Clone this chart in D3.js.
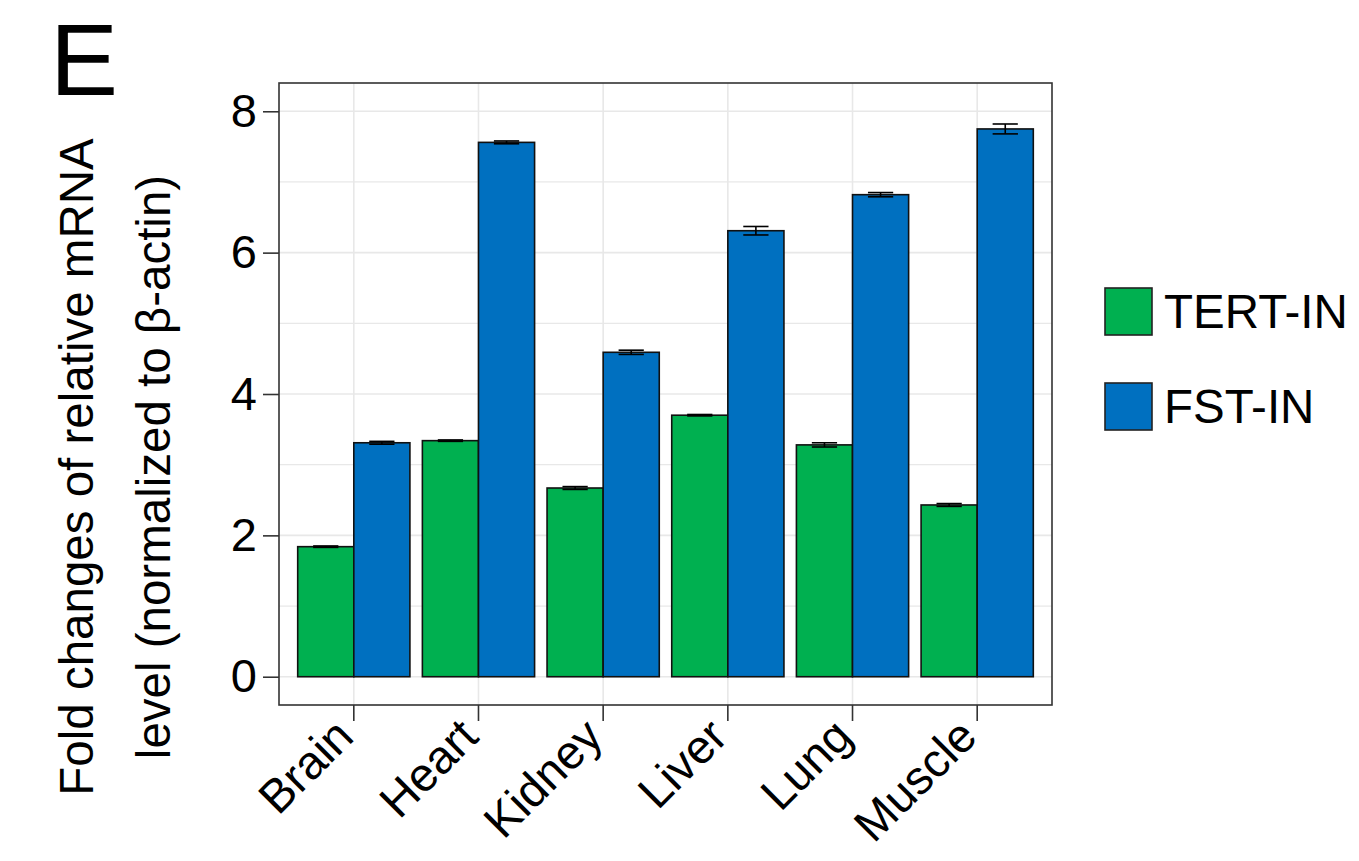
<!DOCTYPE html>
<html>
<head>
<meta charset="utf-8">
<script src="https://cdn.jsdelivr.net/npm/d3@7"></script>
<style>
  html, body { margin: 0; padding: 0; background: #fff; }
  svg { display: block; font-family: "Liberation Sans", Arial, sans-serif; }
</style>
</head>
<body>
<svg id="chart" width="1359" height="861"></svg>
<script>
// ---- data ----
const categories = ["Brain", "Heart", "Kidney", "Liver", "Lung", "Muscle"];
const seriesNames = ["TERT-IN", "FST-IN"];
const tertValues = [1.84, 3.34, 2.67, 3.70, 3.28, 2.43];
const tertErrors = [0.01, 0.01, 0.02, 0.01, 0.03, 0.02];
const fstValues  = [3.31, 7.56, 4.59, 6.31, 6.82, 7.75];
const fstErrors  = [0.02, 0.02, 0.03, 0.06, 0.03, 0.07];
const yTicks = [0, 2, 4, 6, 8];
const yGrid = [0, 1, 2, 3, 4, 5, 6, 7, 8];
const colors = ["#00B050", "#0070C0"];
const yTitleLines = ["Fold changes of relative mRNA", "level (normalized to \u03B2-actin)"];
const panelLabel = "E";

// ---- layout ----
const svg = d3.select("#chart");
const P = { left: 279, right: 1052, top: 83, bottom: 705 };

const x = d3.scaleBand().domain(categories).range([P.left, P.right])
  .paddingInner(0.1).paddingOuter(0.15);
const x1 = d3.scaleBand().domain(seriesNames).range([0, x.bandwidth()]).padding(0);
const y = d3.scaleLinear().domain([-0.4, 8.4]).range([P.bottom, P.top]);

const rows = [];
categories.forEach((c, i) => {
  rows.push({ cat: c, s: seriesNames[0], v: tertValues[i], e: tertErrors[i], col: colors[0] });
  rows.push({ cat: c, s: seriesNames[1], v: fstValues[i], e: fstErrors[i], col: colors[1] });
});

// panel background
svg.append("rect").attr("x", P.left).attr("y", P.top)
  .attr("width", P.right - P.left).attr("height", P.bottom - P.top)
  .attr("fill", "#fff");

// gridlines
const grid = svg.append("g");
grid.selectAll("line.h").data(yGrid).enter().append("line")
  .attr("x1", P.left).attr("x2", P.right)
  .attr("y1", d => y(d)).attr("y2", d => y(d))
  .attr("stroke", "#e8e8e8").attr("stroke-width", d => d % 2 === 0 ? 1.6 : 1.2);
grid.selectAll("line.v").data(categories).enter().append("line")
  .attr("x1", d => x(d) + x.bandwidth() / 2).attr("x2", d => x(d) + x.bandwidth() / 2)
  .attr("y1", P.top).attr("y2", P.bottom)
  .attr("stroke", "#e8e8e8").attr("stroke-width", 1.6);

// bars
svg.append("g").selectAll("rect").data(rows).enter().append("rect")
  .attr("x", d => x(d.cat) + x1(d.s))
  .attr("width", x1.bandwidth())
  .attr("y", d => y(d.v))
  .attr("height", d => y(0) - y(d.v))
  .attr("fill", d => d.col)
  .attr("stroke", "#111").attr("stroke-width", 1.6);

// error bars
const eb = svg.append("g").attr("stroke", "#000").attr("stroke-width", 1.6);
const ew = x1.bandwidth() * 0.45;
rows.forEach(d => {
  const cx = x(d.cat) + x1(d.s) + x1.bandwidth() / 2;
  eb.append("line").attr("x1", cx).attr("x2", cx).attr("y1", y(d.v + d.e)).attr("y2", y(d.v - d.e));
  eb.append("line").attr("x1", cx - ew / 2).attr("x2", cx + ew / 2).attr("y1", y(d.v + d.e)).attr("y2", y(d.v + d.e));
  eb.append("line").attr("x1", cx - ew / 2).attr("x2", cx + ew / 2).attr("y1", y(d.v - d.e)).attr("y2", y(d.v - d.e));
});

// panel border
svg.append("rect").attr("x", P.left).attr("y", P.top)
  .attr("width", P.right - P.left).attr("height", P.bottom - P.top)
  .attr("fill", "none").attr("stroke", "#333").attr("stroke-width", 1.6);

// y axis
const yAxis = d3.axisLeft(y).tickValues(yTicks).tickSize(16).tickPadding(6).tickFormat(d3.format("d"));
const gy = svg.append("g").attr("transform", `translate(${P.left},0)`).call(yAxis);
gy.select(".domain").remove();
gy.selectAll(".tick line").attr("stroke", "#333").attr("stroke-width", 1.6);
gy.selectAll(".tick text").attr("font-size", 47).attr("fill", "#000")
  .attr("font-family", "'Liberation Sans', Arial, sans-serif");

// x axis
const xAxis = d3.axisBottom(x).tickSize(16).tickPadding(0);
const gx = svg.append("g").attr("transform", `translate(0,${P.bottom})`).call(xAxis);
gx.select(".domain").remove();
gx.selectAll(".tick line").attr("stroke", "#333").attr("stroke-width", 1.6);
gx.selectAll(".tick text")
  .attr("font-size", 47).attr("fill", "#000")
  .attr("font-family", "'Liberation Sans', Arial, sans-serif")
  .attr("text-anchor", "end")
  .attr("y", 0).attr("dy", "0.72em")
  .attr("transform", "translate(-22,10) rotate(-45)");

// y title
svg.append("g").selectAll("text").data(yTitleLines).enter().append("text")
  .attr("transform", (d, i) => `translate(${i === 0 ? 93 : 170},467) rotate(-90)`)
  .attr("text-anchor", "middle")
  .attr("font-size", 47.5).attr("fill", "#000")
  .text(d => d);

// legend
const lg = svg.append("g");
seriesNames.forEach((s, i) => {
  const ky = 288 + i * 95;
  lg.append("rect").attr("x", 1105).attr("y", ky).attr("width", 47).attr("height", 47)
    .attr("fill", colors[i]).attr("stroke", "#222").attr("stroke-width", 1.6);
  lg.append("text").attr("x", 1164).attr("y", ky + 40)
    .attr("font-size", 47.5).attr("fill", "#000").text(s);
});

// panel label
svg.append("text").attr("x", 50).attr("y", 95).attr("font-size", 102).attr("fill", "#000").text(panelLabel);
</script>
</body>
</html>
